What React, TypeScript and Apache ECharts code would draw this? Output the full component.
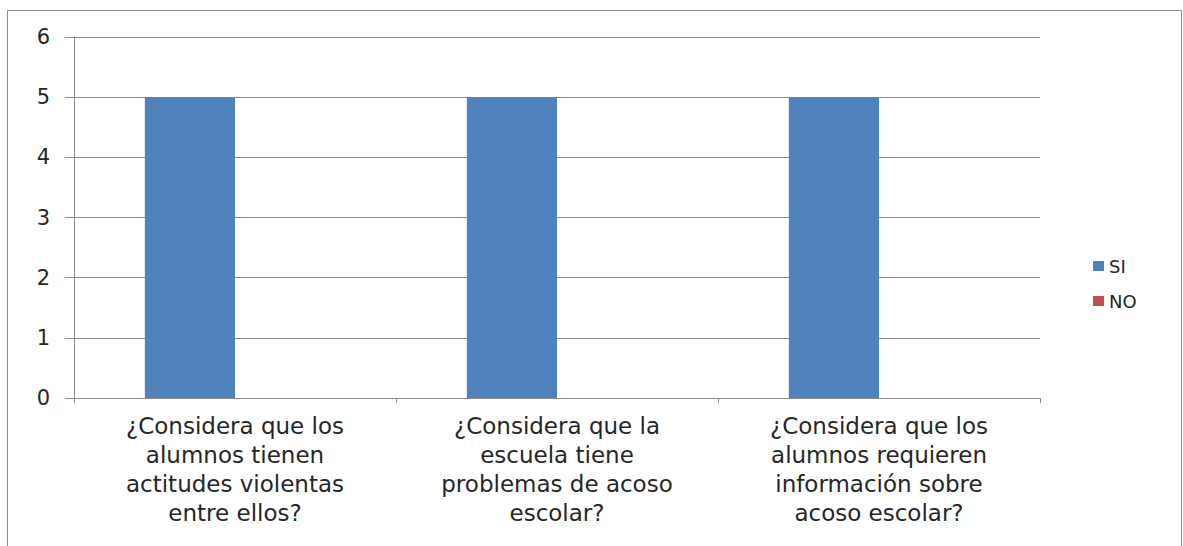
import React, { useEffect, useRef } from "react";
import * as echarts from "echarts";

const categories = [
  "¿Considera que los\nalumnos tienen\nactitudes violentas\nentre ellos?",
  "¿Considera que la\nescuela tiene\nproblemas de acoso\nescolar?",
  "¿Considera que los\nalumnos requieren\ninformación sobre\nacoso escolar?",
];
const siValues = [5, 5, 5];
const noValues = [0, 0, 0];
const yTicks = { min: 0, max: 6, interval: 1 };

export default function App() {
  const ref = useRef<HTMLDivElement>(null);
  useEffect(() => {
    document.body.style.margin = "0";
    const chart = echarts.init(ref.current!, null, { renderer: "svg" });
    const font = "'DejaVu Sans', 'Open Sans', sans-serif";
    chart.setOption({
      animation: false,
      backgroundColor: "#ffffff",
      grid: { left: 74, right: 143, top: 37, bottom: 148 },
      legend: {
        orient: "vertical",
        left: 1088,
        top: 252,
        itemWidth: 11,
        itemHeight: 10,
        itemGap: 17,
        icon: "rect",
        textStyle: { fontFamily: font, fontSize: 18, color: "#262626" },
        data: ["SI", "NO"],
      },
      xAxis: {
        type: "category",
        data: categories,
        axisLine: { lineStyle: { color: "#8a8a8a", width: 1 } },
        axisTick: { show: true, length: 5, lineStyle: { color: "#8a8a8a" } },
        axisLabel: {
          fontFamily: font,
          fontSize: 23,
          color: "#262626",
          lineHeight: 29,
          margin: 13,
          interval: 0,
        },
      },
      yAxis: {
        type: "value",
        min: yTicks.min,
        max: yTicks.max,
        interval: yTicks.interval,
        axisLine: { show: true, lineStyle: { color: "#8a8a8a" } },
        axisTick: { show: true, length: 9, lineStyle: { color: "#8a8a8a" } },
        splitLine: { lineStyle: { color: "#8a8a8a", width: 1 } },
        axisLabel: { fontFamily: font, fontSize: 21, color: "#262626", margin: 24 },
      },
      series: [
        {
          name: "SI",
          type: "bar",
          data: siValues,
          itemStyle: { color: "#4F81BD" },
          barGap: "0%",
          barCategoryGap: "44%",
        },
        {
          name: "NO",
          type: "bar",
          data: noValues,
          itemStyle: { color: "#C0504D" },
          barGap: "0%",
          barCategoryGap: "44%",
        },
      ],
      graphic: [
        {
          type: "rect",
          shape: { x: 7.5, y: 10.5, width: 1174, height: 540 },
          style: { fill: "none", stroke: "#8c8c8c", lineWidth: 1 },
          silent: true,
        },
      ],
    });
    return () => chart.dispose();
  }, []);
  return <div ref={ref} style={{ width: 1183, height: 546 }} />;
}
